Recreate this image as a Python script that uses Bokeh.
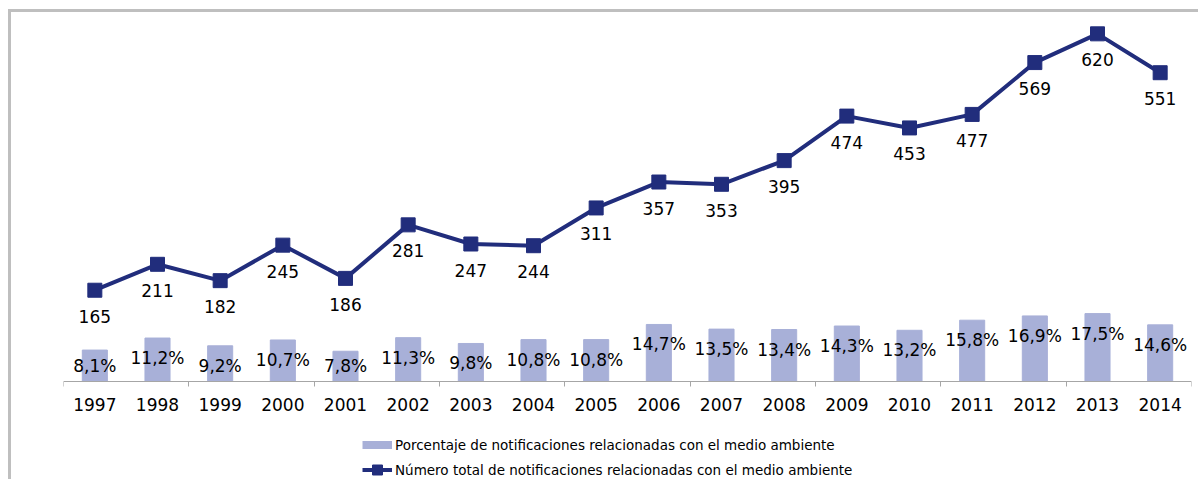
from bokeh.plotting import figure
from bokeh.models import Range1d, FixedTicker, Legend, LegendItem
from bokeh.embed import file_html
from bokeh.resources import INLINE
from bokeh.core.properties import value
import numpy as np

years = [str(y) for y in range(1997, 2015)]
totals = [165, 211, 182, 245, 186, 281, 247, 244, 311, 357, 353, 395, 474, 453, 477, 569, 620, 551]
percents = [8.1, 11.2, 9.2, 10.7, 7.8, 11.3, 9.8, 10.8, 10.8, 14.7, 13.5, 13.4, 14.3, 13.2, 15.8, 16.9, 17.5, 14.6]
pct_labels = [f"{v:.1f}%".replace(".", ",") for v in percents]
tot_labels = [str(v) for v in totals]
legend_bar = "Porcentaje de notificaciones relacionadas con el medio ambiente"
legend_line = "Número total de notificaciones relacionadas con el medio ambiente"

LINE_COLOR = "#212D7C"
BAR_COLOR = "#A8B0D8"
FONT = "DejaVu Sans"

idx = np.arange(len(years))

# pixel scales (px per unit) and the frame layout
PX_PCT = 3.88
PX_TOT = 0.5635
ABOVE = 361   # px from frame top to the baseline
BELOW = 101   # px from the baseline to frame bottom

p = figure(width=1190, height=470, output_backend="svg", toolbar_location=None,
           x_range=Range1d(-0.5, len(years) - 0.5),
           y_range=Range1d(-BELOW / PX_PCT, ABOVE / PX_PCT),
           min_border_left=52, min_border_right=10, min_border_top=8, min_border_bottom=0,
           styles={"margin-left": "8px", "margin-top": "9px",
                   "border-left": "3px solid #bfbfbf", "border-top": "3px solid #bfbfbf"})
p.extra_y_ranges = {"tot": Range1d(-(BELOW - 1.7) / PX_TOT, (ABOVE + 1.7) / PX_TOT)}
p.outline_line_color = None
p.xgrid.visible = False
p.ygrid.visible = False
p.yaxis.visible = False
p.background_fill_alpha = 0
p.border_fill_alpha = 0

ax = p.xaxis[0]
ax.fixed_location = 0
ax.ticker = FixedTicker(ticks=list(idx), minor_ticks=[-0.5 + 2 * k for k in range(10)])
ax.major_label_overrides = {int(i): years[i] for i in idx}
ax.major_tick_line_color = None
ax.major_tick_out = 0
ax.major_tick_in = 0
ax.minor_tick_out = 5
ax.minor_tick_in = 0
ax.minor_tick_line_color = "#a6a6a6"
ax.axis_line_color = "#a6a6a6"
ax.major_label_standoff = 11
ax.major_label_text_font = FONT
ax.major_label_text_font_size = "17px"
ax.major_label_text_color = "#000000"

p.vbar(x=idx, top=percents, width=0.4, color=BAR_COLOR)
line_r = p.line(idx, totals, y_range_name="tot", line_width=4, color=LINE_COLOR)
scat_r = p.scatter(idx, totals, marker="square", size=14, y_range_name="tot", color=LINE_COLOR)

thr = (16 + 20) / PX_PCT
p.text(x=idx, y=totals, text=tot_labels, y_range_name="tot", y_offset=26,
       text_align="center", text_baseline="middle", text_font=value(FONT),
       text_font_size="17px", text_color="#000000")
p.text(x=idx, y=np.maximum(np.array(percents), thr), text=pct_labels, y_offset=20,
       text_align="center", text_baseline="middle", text_font=value(FONT),
       text_font_size="17px", text_color="#000000")

# legend swatch for the bars: a thick line kept outside the visible range
bar_leg = p.line(x=[-3, -2], y=[-50, -50], line_width=8, color=BAR_COLOR)
legend = Legend(items=[LegendItem(label=legend_bar, renderers=[bar_leg]),
                       LegendItem(label=legend_line, renderers=[line_r, scat_r])],
                location=(299, 0), glyph_width=30, glyph_height=25, label_height=20,
                spacing=0, padding=0, margin=0, border_line_color=None,
                background_fill_alpha=0, label_standoff=3,
                label_text_font=FONT, label_text_font_size="13.5px", label_text_color="#000000")
p.add_layout(legend)

open("out.html", "w").write(file_html(p, INLINE))
